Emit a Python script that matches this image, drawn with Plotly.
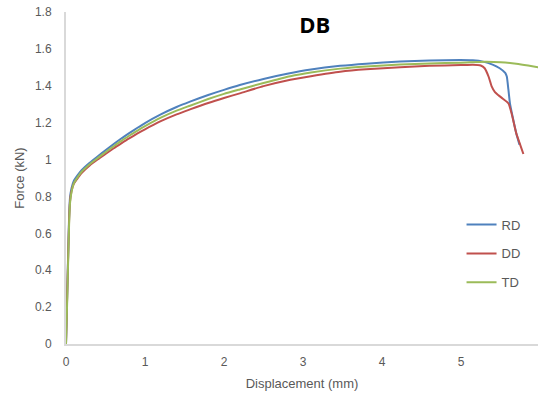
import plotly.graph_objects as go

# Force–displacement curves for the DB specimens (three orientations)
rd_disp = [0, 0.01, 0.02, 0.03, 0.04, 0.05, 0.07, 0.10, 0.15, 0.20, 0.30, 0.40, 0.50,
           0.60, 0.70, 0.80, 0.90, 1.00, 1.20, 1.40, 1.57, 1.80, 2.00, 2.20, 2.50, 2.80,
           3.10, 3.47, 3.80, 4.23, 4.60, 4.99, 5.15, 5.28, 5.40, 5.49, 5.56, 5.58, 5.60,
           5.62, 5.66, 5.70, 5.74]
rd_force = [0, 0.18, 0.36, 0.54, 0.70, 0.79, 0.845, 0.885, 0.917, 0.944, 0.983, 1.017, 1.050,
            1.083, 1.114, 1.143, 1.171, 1.198, 1.245, 1.285, 1.314, 1.350, 1.378, 1.404, 1.437,
            1.465, 1.488, 1.508, 1.520, 1.531, 1.537, 1.540, 1.538, 1.531, 1.515, 1.495, 1.470,
            1.450, 1.380, 1.305, 1.220, 1.142, 1.080]

dd_disp = [0, 0.01, 0.02, 0.03, 0.04, 0.05, 0.07, 0.10, 0.15, 0.20, 0.30, 0.40, 0.50,
           0.60, 0.70, 0.80, 0.90, 1.00, 1.20, 1.40, 1.57, 1.80, 2.00, 2.20, 2.50, 2.84,
           3.10, 3.47, 3.80, 4.23, 4.60, 5.00, 5.15, 5.25, 5.30, 5.35, 5.39, 5.43, 5.47,
           5.53, 5.60, 5.64, 5.70, 5.75, 5.79]
dd_force = [0, 0.17, 0.35, 0.52, 0.68, 0.77, 0.830, 0.870, 0.900, 0.928, 0.968, 1.000, 1.030,
            1.060, 1.088, 1.115, 1.140, 1.164, 1.208, 1.245, 1.272, 1.307, 1.334, 1.359, 1.398,
            1.433, 1.452, 1.476, 1.489, 1.500, 1.508, 1.512, 1.514, 1.510, 1.495, 1.449, 1.395,
            1.365, 1.350, 1.330, 1.305, 1.251, 1.142, 1.080, 1.030]

td_disp = [0, 0.01, 0.02, 0.03, 0.04, 0.05, 0.07, 0.10, 0.15, 0.20, 0.30, 0.40, 0.50,
           0.60, 0.70, 0.80, 0.90, 1.00, 1.20, 1.40, 1.57, 1.80, 2.00, 2.20, 2.50, 2.84,
           3.10, 3.47, 3.80, 4.23, 4.60, 5.00, 5.30, 5.50, 5.70, 5.85, 5.975, 6.05]
td_force = [0, 0.15, 0.32, 0.50, 0.66, 0.76, 0.825, 0.872, 0.906, 0.935, 0.975, 1.008, 1.040,
            1.071, 1.101, 1.129, 1.156, 1.181, 1.227, 1.265, 1.292, 1.328, 1.356, 1.380, 1.415,
            1.452, 1.472, 1.493, 1.505, 1.515, 1.521, 1.525, 1.530, 1.528, 1.520, 1.510, 1.500,
            1.492]

series = [
    ("RD", rd_disp, rd_force, "#4F81BD"),
    ("DD", dd_disp, dd_force, "#C0504D"),
    ("TD", td_disp, td_force, "#9BBB59"),
]

x_ticks = [0, 1, 2, 3, 4, 5, 6]
y_ticks = [0, 0.2, 0.4, 0.6, 0.8, 1, 1.2, 1.4, 1.6, 1.8]
y_tick_text = ["0", "0.2", "0.4", "0.6", "0.8", "1", "1.2", "1.4", "1.6", "1.8"]

fig = go.Figure()
for name, xs, ys, color in series:
    fig.add_trace(go.Scatter(
        x=xs, y=ys, name=name, mode="lines", legendgroup=name,
        line=dict(color=color, width=2, shape="spline", smoothing=0.5),
    ))

font_family = "Liberation Sans, Arial, sans-serif"
axis_font = dict(family=font_family, size=12, color="#595959")

fig.update_layout(
    width=538, height=394,
    margin=dict(l=66, r=0, t=12, b=50),
    paper_bgcolor="white", plot_bgcolor="white",
    title=dict(
        text="<b>DB</b>", x=0.585, xref="container", xanchor="center",
        y=1 - 25 / 394, yanchor="middle",
        font=dict(family="Open Sans, sans-serif", size=22, color="black"),
    ),
    showlegend=True,
    legend=dict(
        x=0.838, y=0.405, xanchor="left", yanchor="top",
        font=dict(family=font_family, size=13, color="#595959"),
        tracegroupgap=9, itemwidth=30, bgcolor="rgba(0,0,0,0)",
    ),
    xaxis=dict(
        range=[0, 5.975], tickvals=x_ticks, showgrid=False, zeroline=False,
        showline=True, linecolor="#D9D9D9", linewidth=2,
        ticks="", tickfont=axis_font, ticklabelstandoff=6,
        title=dict(text="Displacement (mm)",
                   font=dict(family=font_family, size=13, color="#595959"), standoff=10),
    ),
    yaxis=dict(
        range=[0, 1.8], tickvals=y_ticks, ticktext=y_tick_text, showgrid=False, zeroline=False,
        showline=True, linecolor="#D9D9D9", linewidth=2,
        ticks="", tickfont=axis_font, ticklabelstandoff=10,
        title=dict(text="Force (kN)",
                   font=dict(family=font_family, size=13, color="#595959"), standoff=7),
    ),
)

fig.write_html("out.html")
